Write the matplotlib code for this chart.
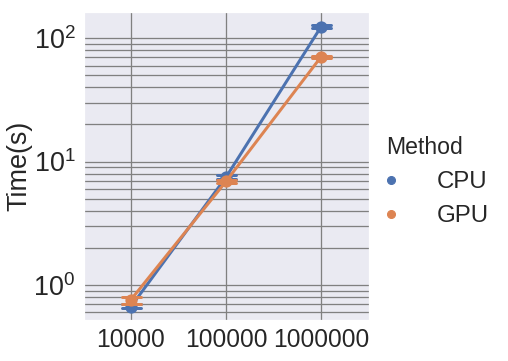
import numpy as np
import pandas as pd
import matplotlib
matplotlib.use("Agg")
import matplotlib.pyplot as plt
from matplotlib.lines import Line2D
import seaborn as sns

# data: per-run timings (s) for each problem size
sizes = [10000, 100000, 1000000]
cpu_runs = [[0.645, 0.66, 0.70], [7.2, 7.45, 7.75], [120.0, 123.5, 127.0]]
gpu_runs = [[0.70, 0.78, 0.80], [6.7, 6.9, 7.1], [69.0, 70.5, 72.0]]
methods = ["CPU", "GPU"]

rows = []
for m, runs in zip(methods, [cpu_runs, gpu_runs]):
    for n, r in zip(sizes, runs):
        for t in r:
            rows.append({"N": n, "Time(s)": t, "Method": m})
df = pd.DataFrame(rows)

sns.set_theme(style="darkgrid", font_scale=2)
plt.rcParams['font.family'] = ['Liberation Sans', 'DejaVu Sans']
plt.rcParams['mathtext.fontset'] = 'custom'
plt.rcParams['mathtext.rm'] = 'Liberation Sans'
plt.rcParams['mathtext.it'] = 'Liberation Sans'

fig = plt.figure(figsize=(508 / 72, 361 / 72), dpi=72)
ax = fig.add_axes([83.5 / 508, 1 - 320 / 361, 285 / 508, 308 / 361])
pal = sns.color_palette("deep")[:2]
sns.pointplot(data=df, x="N", y="Time(s)", hue="Method", errorbar=("pi", 100),
              capsize=0.2, palette=pal, ax=ax, linewidth=3, markersize=10,
              err_kws={"linewidth": 3}, legend=False)
ax.set_yscale("log")
ax.set_ylim(0.52, 163)
ax.set_xlim(-0.5, 2.5)
ax.set_xlabel("")
ax.set_ylabel("Time(s)", fontsize=27, labelpad=1)
ax.set_xticks([0, 1, 2])
ax.set_xticklabels([str(s) for s in sizes])
ax.grid(True, which="both", color="gray", linewidth=1.3)
ax.tick_params(axis="both", which="both", length=0, pad=8)
ax.tick_params(axis="x", labelsize=24.5)
ax.tick_params(axis="y", labelsize=27)
ax.set_axisbelow(True)

handles = [Line2D([], [], marker="o", color=c, linestyle="none", markersize=8)
           for c in pal]
leg = fig.legend(handles, methods, title="Method", loc="upper left",
                 bbox_to_anchor=(386 / 508, 1 - 136 / 361), frameon=False,
                 fontsize=24, title_fontsize=23, handletextpad=1.7,
                 handlelength=0.4, borderpad=0, borderaxespad=0,
                 labelspacing=0.5)
leg._legend_box.align = "left"

fig.savefig("out.png", dpi=72)
